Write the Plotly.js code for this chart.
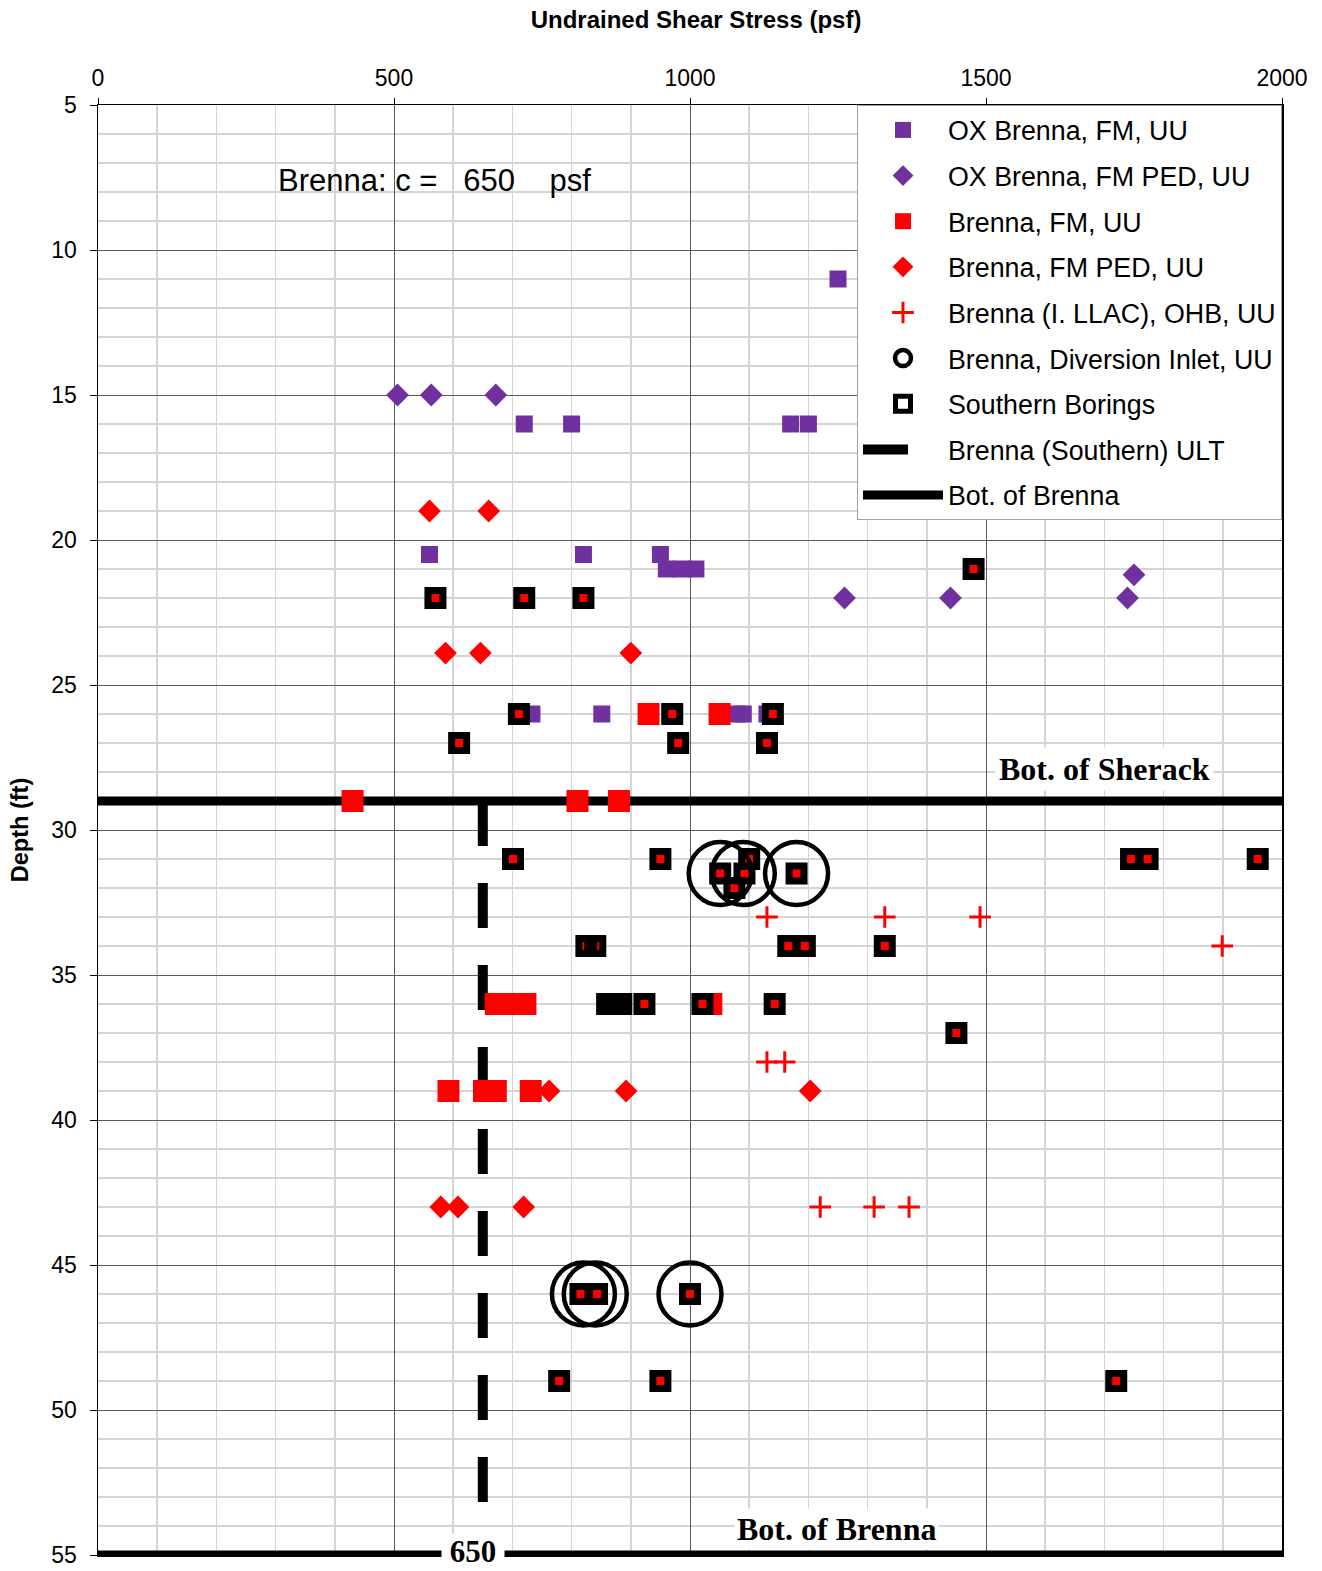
<!DOCTYPE html>
<html>
<head>
<meta charset="utf-8">
<script src="https://cdn.plot.ly/plotly-3.0.1.min.js"></script>
<style>html,body{margin:0;padding:0;background:#fff;}#chart{width:1322px;height:1571px;}</style>
</head>
<body>
<div id="chart"></div>
<script>
// ---- data (undrained shear stress in psf, depth in ft) ----
const oxFmX = [1250, 720, 800, 1170, 1200, 560, 820, 950, 960, 985, 1010, 733, 851, 1080, 1090, 1130];
const oxFmY = [11, 16, 16, 16, 16, 20.5, 20.5, 20.5, 21, 21, 21, 26, 26, 26, 26, 26];

const oxPedX = [506, 563, 672, 1261, 1440, 1739, 1750];
const oxPedY = [15, 15, 15, 22, 22, 22, 21.2];

const fmX = [430, 810, 880, 930, 1050, 672, 697, 722, 1036, 592, 652, 672, 731];
const fmY = [29, 29, 29, 26, 26, 36, 36, 36, 36, 39, 39, 39, 39];

const pedX = [560, 660, 587, 646, 900, 762, 892, 1203, 579, 608, 719];
const pedY = [19, 19, 23.9, 23.9, 23.9, 39, 39, 39, 43, 43, 43];

const ohbX = [1130, 1329, 1490, 1899, 1130, 1160, 1220, 1311, 1370];
const ohbY = [33, 33, 33, 34, 38, 38, 43, 43, 43];

const divX = [1051, 1090, 1180, 820, 840, 1000];
const divY = [31.5, 31.5, 31.5, 46, 46, 46];

// Southern borings (tested samples, red core shows underlying FM UU result)
const sbX = [1479, 570, 720, 820, 711, 970, 1140, 610, 980, 1130, 701, 950, 1100, 1745, 1773, 1959,
             1051, 1092, 1180, 1075, 825, 840, 1166, 1194, 1329, 923, 1021, 1143, 1450, 815, 843, 1000, 779, 950, 1720];
const sbY = [21, 22, 22, 22, 26, 26, 26, 27, 27, 27, 31, 31, 31, 31, 31, 31,
             31.5, 31.5, 31.5, 32, 34, 34, 34, 34, 34, 36, 36, 36, 37, 46, 46, 46, 49, 49, 49];
// Southern borings without a coincident red result
const sb2X = [860, 872, 884];
const sb2Y = [36, 36, 36];

// Design lines
const ultX = [650, 650];
const ultY = [29, 55];
const botX = [0, 2000];
const botSherackY = [29, 29];
const botBrennaY = [55, 55];

const cValue = 650;

// ---- traces ----
const PURPLE = '#7030a0', RED = '#ff0000';
const traces = [
  {x: botX, y: botSherackY, mode: 'lines', line: {color: 'black', width: 9}, showlegend: false,
   legendgroup: 'bot', cliponaxis: false, hoverinfo: 'skip'},
  {x: botX, y: botBrennaY, mode: 'lines', name: 'Bot. of Brenna', line: {color: 'black', width: 9},
   legendgroup: 'bot', legendrank: 9, cliponaxis: false},
  {x: ultX, y: ultY, mode: 'lines', name: 'Brenna (Southern) ULT', legendgroup: 'ult', legendrank: 8,
   line: {color: 'black', width: 10, dash: '45px,37px'}, cliponaxis: false},
  {x: oxFmX, y: oxFmY, mode: 'markers', name: 'OX Brenna, FM, UU', legendgroup: 'a', legendrank: 1,
   marker: {symbol: 'square', size: 17, color: PURPLE}},
  {x: oxPedX, y: oxPedY, mode: 'markers', name: 'OX Brenna, FM PED, UU', legendgroup: 'b', legendrank: 2,
   marker: {symbol: 'diamond', size: 17.5, color: PURPLE}},
  {x: pedX, y: pedY, mode: 'markers', name: 'Brenna, FM PED, UU', legendgroup: 'd', legendrank: 4,
   marker: {symbol: 'diamond', size: 17.5, color: RED}},
  {x: fmX, y: fmY, mode: 'markers', name: 'Brenna, FM, UU', legendgroup: 'c', legendrank: 3,
   marker: {symbol: 'square', size: 22, color: RED}},
  {x: ohbX, y: ohbY, mode: 'markers', name: 'Brenna (I. LLAC), OHB, UU', legendgroup: 'e', legendrank: 5,
   marker: {symbol: 'cross-thin-open', size: 15.5, color: RED, line: {width: 3, color: RED}}},
  {x: sbX, y: sbY, mode: 'markers', showlegend: false, legendgroup: 'g', hoverinfo: 'skip',
   marker: {symbol: 'square', size: 13, color: RED}},
  {x: sb2X, y: sb2Y, mode: 'markers', showlegend: false, legendgroup: 'g',
   marker: {symbol: 'square', size: 15, color: 'black', line: {color: 'black', width: 7}}},
  {x: sbX, y: sbY, mode: 'markers', name: 'Southern Borings', legendgroup: 'g', legendrank: 7,
   marker: {symbol: 'square-open', size: 15, color: 'black', line: {color: 'black', width: 7}}},
  {x: divX, y: divY, mode: 'markers', name: 'Brenna, Diversion Inlet, UU', legendgroup: 'f', legendrank: 6,
   marker: {symbol: 'circle-open', size: 63, color: 'black', line: {color: 'black', width: 4.5}}}
];

const serif = 'Liberation Serif, Times New Roman, serif';
const layout = {
  width: 1322, height: 1571,
  margin: {l: 98, r: 39.5, t: 105, b: 16, pad: 0},
  paper_bgcolor: 'white', plot_bgcolor: 'white',
  font: {family: 'Liberation Sans, Arial, sans-serif', color: 'black'},
  title: {text: '<b>Undrained Shear Stress (psf)</b>', font: {size: 24, color: 'black'},
          xref: 'container', x: 0.5265, xanchor: 'center', yref: 'container', y: 1 - 20 / 1571, yanchor: 'middle'},
  showlegend: true,
  legend: {x: 1, xanchor: 'right', y: 1, yanchor: 'top', bgcolor: 'white', bordercolor: '#a0a0a0', borderwidth: 1,
           font: {size: 26.8, color: 'black'}, traceorder: 'grouped', tracegroupgap: 7.8, itemwidth: 80},
  xaxis: {side: 'top', range: [0, 2000], tick0: 0, dtick: 500, ticks: 'outside', ticklen: 6, tickcolor: 'black',
          tickfont: {size: 23}, ticklabelstandoff: 2,
          showgrid: true, gridcolor: '#5a5a5a', gridwidth: 1,
          minor: {dtick: 100, showgrid: true, gridcolor: '#d4d4d4', gridwidth: 1.5},
          showline: true, linecolor: 'black', linewidth: 1.5, mirror: true, zeroline: false, fixedrange: true},
  yaxis: {range: [55, 5], tick0: 5, dtick: 5, ticks: 'outside', ticklen: 7, tickcolor: 'black',
          tickfont: {size: 23}, ticklabelstandoff: 8,
          title: {text: '<b>Depth (ft)</b>', font: {size: 23.5}, standoff: 16},
          showgrid: true, gridcolor: '#5a5a5a', gridwidth: 1,
          minor: {dtick: 1, showgrid: true, gridcolor: '#d4d4d4', gridwidth: 1.5},
          showline: true, linecolor: 'black', linewidth: 1.5, mirror: true, zeroline: false, fixedrange: true},
  annotations: [
    {xref: 'x', yref: 'y', x: 301, y: 7.6, xanchor: 'left', yanchor: 'middle', showarrow: false,
     text: 'Brenna: c =&nbsp;&nbsp;&nbsp;' + cValue + '&nbsp;&nbsp;&nbsp;&nbsp;psf', font: {size: 31, color: 'black'}},
    {xref: 'x', yref: 'y', x: 1700, y: 27.9, xanchor: 'center', yanchor: 'middle', showarrow: false,
     text: '<b>Bot. of Sherack</b>', bgcolor: 'white', borderpad: 3, font: {family: serif, size: 32, color: 'black'}},
    {xref: 'x', yref: 'y', x: 1247, y: 54.1, xanchor: 'center', yanchor: 'middle', showarrow: false,
     text: '<b>Bot. of Brenna</b>', bgcolor: 'white', borderpad: 2, font: {family: serif, size: 32, color: 'black'}},
    {xref: 'x', yref: 'y', x: 633, y: 54.87, xanchor: 'center', yanchor: 'middle', showarrow: false,
     text: '<b>&nbsp;' + cValue + '&nbsp;</b>', bgcolor: 'white', borderpad: 0, font: {family: serif, size: 31, color: 'black'}}
  ]
};

Plotly.newPlot('chart', traces, layout, {displayModeBar: false, staticPlot: true});
</script>
</body>
</html>
